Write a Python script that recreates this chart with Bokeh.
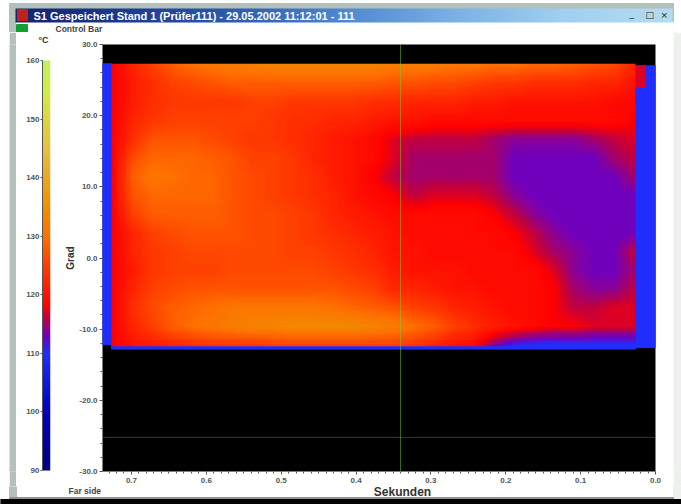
import numpy as np
from bokeh.plotting import figure
from bokeh.layouts import column, row
from bokeh.models import LinearColorMapper, Range1d, FixedTicker, Span, NumeralTickFormatter
from bokeh.core.properties import value
from bokeh.embed import file_html
from bokeh.resources import INLINE

window_title = "S1 Gespeichert Stand 1 (Prüfer111) - 29.05.2002 11:12:01 - 111"
control_label = "Control Bar"
x_title = "Sekunden"
y_title = "Grad"
far_side = "Far side"
unit_label = "°C"

x_ticks = [0.7, 0.6, 0.5, 0.4, 0.3, 0.2, 0.1, 0.0]
y_ticks = [30, 20, 10, 0, -10, -20, -30]
scale_ticks = [160, 150, 140, 130, 120, 110, 100, 90]
cursor_x = 0.3406
cursor_y = -25.2

# temperature rows, top to bottom; columns from 0.727 s (left) to 0.027 s (right)
heat_rows = [
    [118,122,125,128,130,131,132,132,133,133,133,133,133,133,132,132,132,131,131,130,130,129,129,128,127,126,122],
    [118,121,123,125,126,127,128,128,128,128,128,128,128,128,127,127,126,126,125,124,124,123,123,123,122,122,120],
    [118,121,123,124,124,124,124,125,125,124,124,124,124,123,123,122,122,122,121,121,120,120,120,120,120,119,119],
    [118,122,124,125,125,125,125,125,124,123,123,122,122,121,120,120,119,119,119,119,119,119,119,119,119,119,118],
    [118,123,127,127,127,126,125,124,124,123,122,121,120,119,117,116,116,116,116,115,114,114,114,114,115,116,117],
    [118,126,129,129,129,128,127,125,125,124,122,121,120,119,117,115,115,115,115,115,113,113,113,113,113,115,116],
    [118,128,131,130,129,129,127,126,125,124,123,121,120,118,116,115,115,115,115,115,113,113,113,113,113,113,115],
    [118,127,129,129,129,129,127,126,125,124,123,122,120,119,118,116,117,117,117,116,114,113,113,113,113,113,113],
    [118,125,128,128,128,128,127,126,126,125,124,122,121,120,119,119,119,119,119,118,116,114,113,113,113,113,113],
    [118,122,125,126,127,127,127,126,126,125,124,123,122,121,120,119,119,119,119,119,118,116,114,113,113,113,113],
    [118,122,124,125,126,126,126,126,126,125,125,124,123,122,120,120,119,119,119,119,119,117,115,114,113,113,116],
    [118,121,124,125,125,125,126,126,126,126,126,125,124,123,121,120,120,120,119,119,119,119,117,114,113,113,115],
    [118,122,125,126,127,127,127,127,127,127,127,127,126,125,122,122,121,120,120,119,119,119,118,115,114,114,116],
    [118,123,126,128,129,130,131,131,131,131,131,130,129,128,127,125,124,122,121,120,119,119,118,116,116,117,117],
    [118,122,125,128,130,131,132,133,133,134,134,134,134,133,132,130,128,125,123,121,120,119,118,118,117,117,117],
    [118,120,121,122,123,124,124,124,125,125,125,125,125,125,125,124,122,120,119,114,111,110,110,110,110,110,110],
]
scale_temps = [90, 100, 110, 113, 116, 118, 125, 130, 135, 145, 155, 160]
scale_colors = ["#000080", "#0000c0", "#2030ff", "#7000c0", "#c00040", "#ff0000",
                "#ff4000", "#ff7000", "#f09000", "#e8c040", "#d0f040", "#c0f060"]
edge_temp = 110
tip_temp = 117

def hex2rgb(c):
    return [int(c[i:i + 2], 16) for i in (1, 3, 5)]

def smooth(a, k=8):
    """Display smoothing of the image raster only (same as a browser's image scaling)."""
    a = np.asarray(a, dtype=float)
    r, c = a.shape
    yy = np.linspace(0, r - 1, (r - 1) * k + 1)
    xx = np.linspace(0, c - 1, (c - 1) * k + 1)
    b = np.array([np.interp(xx, np.arange(c), row_) for row_ in a])
    return np.array([np.interp(yy, np.arange(r), b[:, j]) for j in range(b.shape[1])]).T

grid = np.linspace(90, 160, 256)
rgb = np.array([hex2rgb(c) for c in scale_colors], dtype=float)
palette = ["#%02x%02x%02x" % tuple(int(np.interp(t, scale_temps, rgb[:, i])) for i in range(3)) for t in grid]
mapper = LinearColorMapper(palette=palette, low=90, high=160, nan_color="#000000")

FONT = "Liberation Sans"
GREY = "#555555"
FRAME_GREY = "#b4c0bc"
TOP_H = 32
ROW_H = 454
FOOT_H = 18

def bare(fig):
    fig.xaxis.visible = False
    fig.yaxis.visible = False
    fig.grid.visible = False

def filler(w, h, colour):
    f = figure(width=w, height=h, output_backend="svg", toolbar_location=None, min_border=0,
               outline_line_color=None, background_fill_color=colour, border_fill_color=colour)
    bare(f)
    f.scatter([0], [0], size=0, alpha=0)
    return f

# ---- window header
top = figure(width=681, height=TOP_H, x_range=Range1d(0, 681), y_range=Range1d(TOP_H, 0),
             output_backend="svg", toolbar_location=None, min_border=0, outline_line_color=None,
             background_fill_color="#ffffff", border_fill_color="#ffffff")
bare(top)
title_stops = ["#16246e", "#1c3a90", "#2f5cb0", "#4f88d0", "#7ab0e4", "#a0d0f0", "#b4dcf0"]
top_grid = np.linspace(0, 6, 256)
top_rgb = np.array([hex2rgb(c) for c in title_stops], dtype=float)
title_palette = ["#%02x%02x%02x" % tuple(int(np.interp(t, range(7), top_rgb[:, i])) for i in range(3)) for t in top_grid]
title_map = LinearColorMapper(palette=title_palette, low=0, high=6)
top.quad(left=9, right=673, top=3, bottom=TOP_H, color=FRAME_GREY)
top.quad(left=16, right=673, top=22, bottom=TOP_H, color="#ffffff")
top.image(image=[np.linspace(0, 6, 300).reshape(1, 300)], x=15, y=8, dw=657, dh=14, color_mapper=title_map)
top.quad(left=16, right=27, top=24, bottom=TOP_H, color="#10a030")
top.quad(left=17, right=27, top=9, bottom=20, color="#c02020")
top.text(x=[33], y=[15], text=[window_title], text_color="#ffffff", text_font=value(FONT), text_font_style="bold",
         text_font_size="11px", text_baseline="middle")
top.text(x=[55], y=[28], text=[control_label], text_color="#444444", text_font=value(FONT), text_font_style="bold",
         text_font_size="8.5px", text_baseline="middle")
top.text(x=[629, 645, 660], y=[13, 14, 14], text=["_", "□", "×"], text_color="#222222", text_font=value("DejaVu Sans"),
         text_font_size="9px", text_baseline="middle")

# ---- left window edge
strip_out = filler(9, ROW_H, "#ffffff")
strip_in = filler(7, ROW_H, FRAME_GREY)

# ---- temperature scale: same frame height as the map, 160 at px 59 and 90 at px 470
cb = figure(width=44, height=ROW_H, x_range=Range1d(0, 1), y_range=Range1d(89.83, 162.73),
            output_backend="svg", toolbar_location=None, outline_line_color=None,
            min_border_left=26, min_border_right=10, min_border_top=11, min_border_bottom=15,
            background_fill_color="#ffffff", border_fill_color="#ffffff",
            title=unit_label, title_location="above")
cb.title.align = "right"
cb.title.standoff = 0
cb.title.offset = 2
cb.title.text_font = FONT
cb.title.text_font_size = "9px"
cb.title.text_font_style = "bold"
cb.title.text_color = "#333333"
cb.xaxis.visible = False
cb.grid.visible = False
cb.image(image=[np.linspace(90, 160, 256).reshape(256, 1)], x=0, y=90, dw=1, dh=70, color_mapper=mapper)
ax = cb.yaxis[0]
ax.ticker = FixedTicker(ticks=scale_ticks)
ax.bounds = (90, 160)
ax.major_tick_line_color = GREY
ax.major_tick_out = 2
ax.major_tick_in = 0
ax.minor_tick_line_color = None
ax.axis_line_color = GREY
ax.major_label_text_font = FONT
ax.major_label_text_font_size = "8px"
ax.major_label_text_font_style = "bold"
ax.major_label_text_color = GREY
ax.major_label_standoff = 1

# ---- main heat map
p = figure(width=613, height=ROW_H, x_range=Range1d(0.7387, 0.0), y_range=Range1d(-30, 30),
           output_backend="svg", toolbar_location=None, outline_line_color=None,
           min_border_left=42, min_border_right=18, min_border_top=11, min_border_bottom=15,
           background_fill_color="#000000", border_fill_color="#ffffff")
p.grid.visible = False

col = lambda t: palette[int((t - 90) / 70 * 255)]
p.quad(left=[0.7387, 0.0267], right=[0.7267, 0.0], top=[27.3, 27.0], bottom=[-12.2, -12.6], color=col(edge_temp))
p.quad(left=[0.7267], right=[0.0267], top=[-12.0], bottom=[-12.8], color=col(edge_temp))
p.quad(left=[0.0267], right=[0.0134], top=[27.0], bottom=[24.0], color=col(tip_temp))

heat = smooth(np.array(heat_rows, dtype=float)[::-1, ::-1])
p.image(image=[heat], x=0.0267, y=-12.4, dw=0.70, dh=39.7, color_mapper=mapper)

p.add_layout(Span(location=cursor_x, dimension="height", line_color="#70d040", line_alpha=0.5, line_width=1))
p.add_layout(Span(location=cursor_y, dimension="width", line_color="#30a020", line_alpha=0.5, line_width=1))

for a in (p.xaxis[0], p.yaxis[0]):
    a.major_tick_line_color = GREY
    a.minor_tick_line_color = GREY
    a.major_tick_out = 3
    a.major_tick_in = 0
    a.minor_tick_out = 2
    a.minor_tick_in = 0
    a.axis_line_color = None
    a.major_label_text_font = FONT
    a.major_label_text_font_size = "8px"
    a.major_label_text_font_style = "bold"
    a.major_label_text_color = GREY
p.xaxis[0].major_label_standoff = 3
p.yaxis[0].major_label_standoff = 2
p.xaxis[0].ticker = FixedTicker(ticks=x_ticks, minor_ticks=[round(i * 0.01, 2) for i in range(0, 74)])
p.xaxis[0].formatter = NumeralTickFormatter(format="0.0")
p.yaxis[0].ticker = FixedTicker(ticks=y_ticks, minor_ticks=list(range(-30, 31, 2)))
p.yaxis[0].formatter = NumeralTickFormatter(format="0.0")
p.yaxis[0].axis_label = y_title
p.yaxis[0].axis_label_text_font = FONT
p.yaxis[0].axis_label_text_font_size = "10px"
p.yaxis[0].axis_label_text_font_style = "bold"
p.yaxis[0].axis_label_text_color = "#333333"
p.yaxis[0].axis_label_standoff = 0

# ---- right edge
right = filler(8, ROW_H, "#eef0ee")

# ---- bottom strip of the window with the two lower captions
foot = figure(width=681, height=FOOT_H, x_range=Range1d(0, 681), y_range=Range1d(504, 486), output_backend="svg",
              toolbar_location=None, min_border=0, outline_line_color=None,
              background_fill_color="#ffffff", border_fill_color="#ffffff")
bare(foot)
foot.quad(left=9, right=16, top=486, bottom=497, color=FRAME_GREY)
foot.quad(left=673, right=681, top=486, bottom=499, color="#eef0ee")
foot.quad(left=9, right=673, top=497, bottom=499, color="#8c9490")
foot.quad(left=0, right=681, top=499, bottom=504, color="#000000")
foot.text(x=[402], y=[491.5], text=[x_title], text_color="#333333", text_font=value(FONT), text_font_style="bold",
          text_font_size="12px", text_align="center", text_baseline="middle")
foot.text(x=[68], y=[490.5], text=[far_side], text_color="#444444", text_font=value(FONT), text_font_style="bold",
          text_font_size="8.5px", text_baseline="middle")

page = column(top, row(strip_out, strip_in, cb, p, right, spacing=0), foot, spacing=0)
open("out.html", "w").write(file_html(page, INLINE))
